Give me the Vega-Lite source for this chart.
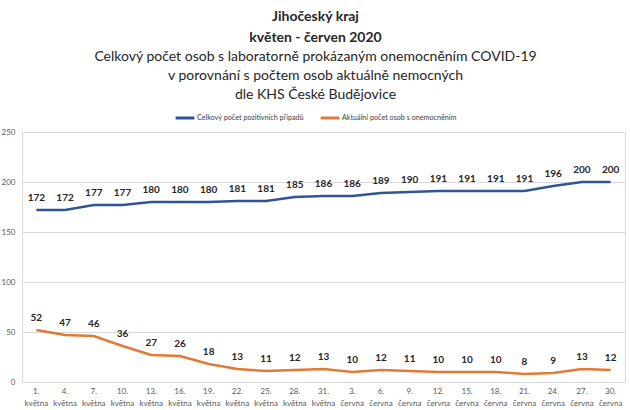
{
  "$schema": "https://vega.github.io/schema/vega-lite/v6.json",
  "autosize": {"type": "none"},
  "width": 603,
  "height": 250,
  "padding": {"left": 22, "top": 132, "right": 5, "bottom": 28},
  "background": "white",
  "title": {
    "text": ["Jihočeský kraj", "květen - červen 2020"],
    "subtitle": ["Celkový počet osob s laboratorně prokázaným onemocněním COVID-19", "v porovnání s počtem osob aktuálně nemocných", "dle KHS České Budějovice"],
    "anchor": "middle",
    "frame": "group",
    "dx": -8,
    "offset": 5,
    "font": "Lato",
    "fontSize": 14,
    "fontWeight": "bold",
    "color": "#262626",
    "lineHeight": 21,
    "subtitleFont": "Lato",
    "subtitleFontSize": 14,
    "subtitleColor": "#262626",
    "subtitleLineHeight": 19,
    "subtitlePadding": 5
  },
  "data": {
    "values": [
      {"date": "1. května", "series": "Celkový počet pozitivních případů", "value": 172},
      {"date": "4. května", "series": "Celkový počet pozitivních případů", "value": 172},
      {"date": "7. května", "series": "Celkový počet pozitivních případů", "value": 177},
      {"date": "10. května", "series": "Celkový počet pozitivních případů", "value": 177},
      {"date": "13. května", "series": "Celkový počet pozitivních případů", "value": 180},
      {"date": "16. května", "series": "Celkový počet pozitivních případů", "value": 180},
      {"date": "19. května", "series": "Celkový počet pozitivních případů", "value": 180},
      {"date": "22. května", "series": "Celkový počet pozitivních případů", "value": 181},
      {"date": "25. května", "series": "Celkový počet pozitivních případů", "value": 181},
      {"date": "28. května", "series": "Celkový počet pozitivních případů", "value": 185},
      {"date": "31. května", "series": "Celkový počet pozitivních případů", "value": 186},
      {"date": "3. června", "series": "Celkový počet pozitivních případů", "value": 186},
      {"date": "6. června", "series": "Celkový počet pozitivních případů", "value": 189},
      {"date": "9. června", "series": "Celkový počet pozitivních případů", "value": 190},
      {"date": "12. června", "series": "Celkový počet pozitivních případů", "value": 191},
      {"date": "15. června", "series": "Celkový počet pozitivních případů", "value": 191},
      {"date": "18. června", "series": "Celkový počet pozitivních případů", "value": 191},
      {"date": "21. června", "series": "Celkový počet pozitivních případů", "value": 191},
      {"date": "24. června", "series": "Celkový počet pozitivních případů", "value": 196},
      {"date": "27. června", "series": "Celkový počet pozitivních případů", "value": 200},
      {"date": "30. června", "series": "Celkový počet pozitivních případů", "value": 200},
      {"date": "1. května", "series": "Aktuální počet osob s onemocněním", "value": 52},
      {"date": "4. května", "series": "Aktuální počet osob s onemocněním", "value": 47},
      {"date": "7. května", "series": "Aktuální počet osob s onemocněním", "value": 46},
      {"date": "10. května", "series": "Aktuální počet osob s onemocněním", "value": 36},
      {"date": "13. května", "series": "Aktuální počet osob s onemocněním", "value": 27},
      {"date": "16. května", "series": "Aktuální počet osob s onemocněním", "value": 26},
      {"date": "19. května", "series": "Aktuální počet osob s onemocněním", "value": 18},
      {"date": "22. května", "series": "Aktuální počet osob s onemocněním", "value": 13},
      {"date": "25. května", "series": "Aktuální počet osob s onemocněním", "value": 11},
      {"date": "28. května", "series": "Aktuální počet osob s onemocněním", "value": 12},
      {"date": "31. května", "series": "Aktuální počet osob s onemocněním", "value": 13},
      {"date": "3. června", "series": "Aktuální počet osob s onemocněním", "value": 10},
      {"date": "6. června", "series": "Aktuální počet osob s onemocněním", "value": 12},
      {"date": "9. června", "series": "Aktuální počet osob s onemocněním", "value": 11},
      {"date": "12. června", "series": "Aktuální počet osob s onemocněním", "value": 10},
      {"date": "15. června", "series": "Aktuální počet osob s onemocněním", "value": 10},
      {"date": "18. června", "series": "Aktuální počet osob s onemocněním", "value": 10},
      {"date": "21. června", "series": "Aktuální počet osob s onemocněním", "value": 8},
      {"date": "24. června", "series": "Aktuální počet osob s onemocněním", "value": 9},
      {"date": "27. června", "series": "Aktuální počet osob s onemocněním", "value": 13},
      {"date": "30. června", "series": "Aktuální počet osob s onemocněním", "value": 12}
    ]
  },
  "encoding": {
    "x": {
      "field": "date",
      "type": "nominal",
      "sort": null,
      "scale": {"type": "band", "paddingInner": 0, "paddingOuter": 0},
      "axis": {
        "title": null,
        "labelAngle": 0,
        "labelExpr": "split(datum.label, ' ')",
        "labelFont": "Lato",
        "labelFontSize": 8,
        "labelColor": "#595959",
        "labelLineHeight": 12,
        "labelPadding": 5,
        "ticks": false,
        "domain": false,
        "grid": false
      }
    },
    "y": {
      "field": "value",
      "type": "quantitative",
      "scale": {"domain": [0, 250]},
      "axis": {
        "title": null,
        "values": [0, 50, 100, 150, 200, 250],
        "labelFont": "Lato",
        "labelFontSize": 8,
        "labelColor": "#595959",
        "labelPadding": 7,
        "ticks": false,
        "domain": false,
        "gridColor": "#d9d9d9",
        "gridWidth": 1
      }
    }
  },
  "layer": [
    {
      "mark": {"type": "line", "strokeWidth": 2.5},
      "encoding": {
        "color": {
          "field": "series",
          "type": "nominal",
          "sort": null,
          "scale": {
            "domain": ["Celkový počet pozitivních případů", "Aktuální počet osob s onemocněním"],
            "range": ["#2F5597", "#E07A35"]
          },
          "legend": {
            "title": null,
            "orient": "none",
            "direction": "horizontal",
            "legendX": 152,
            "legendY": -25,
            "symbolType": "stroke",
            "symbolStrokeWidth": 3,
            "symbolSize": 350,
            "labelFont": "Lato",
            "labelFontSize": 7.2,
            "labelColor": "#404040",
            "columnPadding": 10,
            "labelOffset": 1
          }
        }
      }
    },
    {
      "mark": {"type": "text", "dy": -12, "font": "Lato", "fontSize": 10, "fontWeight": "bold", "color": "#262626"},
      "encoding": {
        "text": {"field": "value", "type": "quantitative"}
      }
    }
  ]
}
